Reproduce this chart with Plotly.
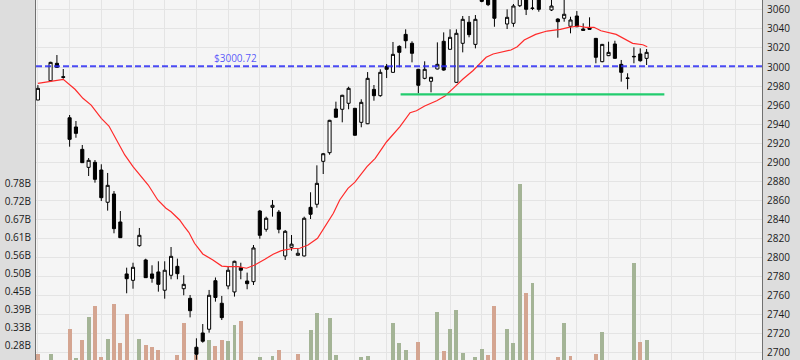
import plotly.graph_objects as go

# ---- data ----
day_index = [0, 2, 3, 4, 5, 6, 7, 8, 9, 10, 11, 12, 13, 14, 15, 16, 17, 18, 19, 20,
             21, 22, 23, 24, 25, 26, 27, 28, 29, 30, 31, 32, 33, 34, 35, 36, 37, 38, 39, 40,
             41, 42, 43, 44, 45, 46, 47, 48, 49, 50, 51, 52, 53, 54, 55, 56, 57, 58, 59, 60,
             61, 62, 63, 64, 65, 66, 67, 68, 69, 70, 71, 72, 74, 75, 76, 77, 78, 79, 81, 82,
             83, 84, 85, 86, 87, 88, 89, 90, 91, 92, 93, 94, 95, 96]

open_ = [2965.3, 2985.6, 3003.9, 2989.8, 2946.7, 2937.0, 2913.5, 2894.6, 2899.9, 2891.8,
         2857.9, 2866.6, 2837.2, 2782.6, 2775.9, 2812.3, 2797.3, 2782.6, 2784.7, 2765.5,
         2781.2, 2790.6, 2767.1, 2757.0, 2705.6, 2720.6, 2724.5, 2775.5, 2751.8, 2770.0,
         2763.7, 2789.2, 2775.2, 2774.5, 2848.7, 2829.5, 2852.6, 2847.6, 2801.5, 2810.6,
         2802.2, 2801.5, 2852.6, 2855.8, 2900.9, 2910.0, 2955.9, 2955.6, 2961.9, 2956.6,
         2941.9, 2940.4, 2976.5, 2969.9, 3000.7, 2994.4, 3021.7, 3034.3, 3024.9, 2997.6,
         2988.1, 2985.0, 2997.9, 3027.0, 3018.6, 2983.9, 3024.9, 3047.0, 3023.8, 3070.5,
         3074.0, 3072.0, 3045.2, 3045.9, 3064.4, 3074.0, 3062.0, 3073.0, 3059.9, 3050.4,
         3051.2, 3042.8, 3053.6, 3039.9, 3041.0, 3030.1, 3005.6, 3011.9, 3024.2, 3002.8,
         2988.5, 3011.2, 3013.7, 3009.1]

high = [2981.0, 3005.5, 3012.6, 2997.9, 2949.6, 2943.3, 2918.1, 2904.4, 2902.3, 2897.8,
        2888.7, 2869.7, 2848.7, 2789.2, 2794.4, 2830.9, 2798.6, 2791.7, 2795.9, 2795.9,
        2810.9, 2798.7, 2781.2, 2760.5, 2715.0, 2730.0, 2765.8, 2778.9, 2759.5, 2789.9,
        2796.5, 2794.4, 2784.0, 2813.0, 2849.8, 2842.8, 2860.3, 2849.8, 2828.8, 2823.5,
        2809.5, 2842.8, 2868.4, 2896.7, 2909.7, 2944.5, 2963.6, 2970.8, 2979.3, 2957.0,
        2966.1, 2994.7, 2981.1, 2997.6, 3003.2, 3026.3, 3022.8, 3039.6, 3027.0, 2998.0,
        3006.0, 2989.5, 3025.9, 3036.4, 3039.6, 3039.6, 3053.6, 3053.6, 3054.6, 3075.0,
        3079.0, 3077.0, 3060.6, 3066.2, 3078.0, 3077.0, 3072.0, 3076.0, 3071.0, 3051.2,
        3071.0, 3052.8, 3058.8, 3045.9, 3052.2, 3030.5, 3024.2, 3026.6, 3027.6, 3007.4,
        2993.4, 3020.7, 3019.6, 3018.9]

low = [2965.3, 2985.2, 2999.5, 2987.7, 2916.3, 2925.7, 2899.3, 2885.5, 2878.5, 2859.2,
       2849.1, 2825.3, 2820.5, 2762.3, 2767.1, 2811.2, 2778.5, 2773.4, 2764.0, 2756.6,
       2777.0, 2777.0, 2760.2, 2737.0, 2692.5, 2710.4, 2720.9, 2753.5, 2734.2, 2766.5,
       2758.8, 2777.0, 2766.5, 2771.0, 2819.6, 2827.0, 2842.8, 2825.3, 2797.3, 2807.0,
       2802.0, 2801.0, 2840.3, 2852.2, 2887.6, 2907.9, 2947.0, 2941.9, 2955.6, 2928.0,
       2936.7, 2940.0, 2964.6, 2968.8, 2988.4, 2994.0, 2999.7, 3019.6, 3004.9, 2972.4,
       2987.1, 2973.4, 2997.5, 2996.1, 3018.3, 2983.5, 3015.4, 3031.2, 3019.6, 3068.0,
       3064.0, 3042.3, 3039.9, 3042.3, 3063.0, 3054.6, 3059.8, 3058.1, 3058.8, 3030.8,
       3047.6, 3035.4, 3042.0, 3038.3, 3039.4, 3003.9, 3005.0, 3011.5, 3009.0, 2984.6,
       2976.6, 3003.9, 3005.6, 3002.1]

close = [2977.6, 3004.9, 2999.7, 2989.2, 2924.0, 2930.3, 2899.5, 2902.0, 2882.0, 2862.7,
         2875.7, 2830.2, 2820.7, 2777.6, 2789.6, 2823.2, 2778.7, 2778.0, 2771.7, 2786.5,
         2801.1, 2782.9, 2771.7, 2744.0, 2698.2, 2711.9, 2760.2, 2757.9, 2736.7, 2786.5,
         2795.9, 2786.5, 2772.4, 2809.9, 2823.2, 2841.1, 2854.7, 2829.5, 2827.4, 2813.9,
         2804.3, 2841.1, 2845.3, 2877.8, 2908.9, 2944.0, 2947.2, 2970.3, 2977.6, 2928.3,
         2962.9, 2988.1, 2969.9, 2994.4, 2997.6, 3013.3, 3015.4, 3027.6, 3014.4, 2980.8,
         2997.6, 2989.2, 3002.8, 2996.8, 3031.2, 3035.4, 3050.1, 3034.0, 3050.1, 3069.0,
         3065.5, 3051.2, 3052.2, 3064.1, 3075.0, 3060.6, 3061.6, 3060.6, 3064.1, 3047.6,
         3055.4, 3049.4, 3042.3, 3038.5, 3039.6, 3010.2, 3023.8, 3015.4, 3009.1, 2994.4,
         2988.1, 3010.8, 3006.6, 3015.4]

volume_b = [0.251, 0.251, 0.220, 0.210, 0.328, 0.238, 0.294, 0.366, 0.399, 0.243,
            0.297, 0.405, 0.286, 0.374, 0.220, 0.297, 0.279, 0.274, 0.263, 0.220,
            0.210, 0.249, 0.348, 0.230, 0.248, 0.220, 0.294, 0.276, 0.294, 0.291,
            0.340, 0.353, 0.220, 0.230, 0.243, 0.220, 0.245, 0.263, 0.220, 0.210,
            0.252, 0.230, 0.325, 0.377, 0.230, 0.362, 0.248, 0.220, 0.220, 0.230,
            0.242, 0.245, 0.220, 0.230, 0.220, 0.347, 0.285, 0.263, 0.220, 0.288,
            0.220, 0.210, 0.381, 0.260, 0.328, 0.387, 0.254, 0.220, 0.242, 0.266,
            0.248, 0.399, 0.328, 0.285, 0.775, 0.439, 0.470, 0.220, 0.220, 0.242,
            0.347, 0.245, 0.220, 0.210, 0.220, 0.251, 0.320, 0.220, 0.230, 0.220,
            0.230, 0.532, 0.288, 0.294]
prior_close = 2985.0

ma_index = [0, 4, 5.85, 7.1, 8.4, 10, 11.2, 12.6, 13.7, 15, 16.3, 17.4, 18.9, 20.2, 21,
            22.35, 23.1, 23.8, 24.7, 26, 27.6, 29, 30, 31.6, 32.9, 34.2, 35.8, 37.1, 38.4,
            40, 41.3, 42.6, 44.1, 45.3, 46.6, 47.6, 48.4, 48.9, 50, 51.9, 53.2, 55, 57.1,
            58.7, 59.7, 61, 62.9, 64.2, 65.5, 67, 68.6, 70.7, 71.8, 72.8, 74.6, 75.6, 76.7,
            78.5, 80.3, 82.4, 83.7, 85.3, 86.4, 87.7, 88.8, 91.2, 92.5, 93.8, 95.4, 96.1]
ma_value = [2982.9, 2987.1, 2976.6, 2967.1, 2960.0, 2946.1, 2938.0, 2921.5, 2907.6, 2895.3,
            2884.8, 2876.0, 2860.3, 2851.6, 2848.0, 2839.3, 2832.3, 2826.4, 2814.8, 2803.6,
            2797.3, 2790.9, 2790.2, 2790.2, 2788.6, 2792.0, 2798.0, 2803.3, 2807.1, 2809.1,
            2809.6, 2813.0, 2820.0, 2832.3, 2846.3, 2860.3, 2867.3, 2872.6, 2879.0, 2895.3,
            2904.1, 2921.5, 2937.3, 2952.0, 2954.1, 2959.0, 2964.6, 2969.5, 2977.6, 2987.1,
            2996.1, 3010.2, 3013.7, 3015.4, 3017.9, 3021.3, 3028.4, 3034.3, 3037.8, 3039.6,
            3041.7, 3043.1, 3041.7, 3041.7, 3038.1, 3034.3, 3029.4, 3024.9, 3023.4, 3021.3]

price_level = 3000.72
price_label = "$3000.72"
support_level = 2971.3
support_start = 57.2
support_end = 98.8

vol_tick_values_b = [5/18, 6/18, 7/18, 8/18, 9/18, 10/18, 11/18, 12/18, 13/18, 14/18]
vol_tick_text = ["0.28B", "0.33B", "0.39B", "0.45B", "0.50B", "0.56B", "0.61B", "0.67B", "0.72B", "0.78B"]

# ---- derived ----
volume = [v * 1e9 for v in volume_b]
prev = [prior_close] + close[:-1]
UP_COL = "#a4b496"
DOWN_COL = "#d4a591"
bar_colors = [UP_COL if c > p else DOWN_COL for c, p in zip(close, prev)]

fig = go.Figure()

fig.add_trace(go.Bar(
    x=day_index, y=volume, yaxis="y", marker=dict(color=bar_colors, line=dict(width=0)),
    width=0.62, showlegend=False, hoverinfo="skip"))

fig.add_trace(go.Scatter(
    x=ma_index, y=ma_value, yaxis="y2", mode="lines",
    line=dict(color="#ff2a2a", width=1.2), showlegend=False, hoverinfo="skip"))

fig.add_trace(go.Candlestick(
    x=day_index, open=open_, high=high, low=low, close=close, yaxis="y2",
    increasing=dict(line=dict(color="#000000", width=1), fillcolor="#ffffff"),
    decreasing=dict(line=dict(color="#000000", width=1), fillcolor="#000000"),
    whiskerwidth=0, showlegend=False, hoverinfo="skip"))

fig.add_shape(type="line", xref="paper", x0=0, x1=1, yref="y2", y0=price_level, y1=price_level,
              line=dict(color="rgba(45,45,245,0.85)", width=2, dash="6px,3px"), layer="above")
fig.add_shape(type="line", xref="x", x0=support_start, x1=support_end, yref="y2",
              y0=support_level, y1=support_level,
              line=dict(color="#22cc6e", width=2.4), layer="above")
fig.add_annotation(xref="paper", x=0.2424, yref="y2", y=price_level, text=price_label,
                   showarrow=False, xanchor="left", yanchor="bottom", yshift=-1,
                   font=dict(family="Open Sans", size=10, color="rgba(70,70,250,0.9)"))

fig.update_layout(
    width=800, height=360,
    margin=dict(l=36, r=38, t=0, b=0),
    paper_bgcolor="#dddddd", plot_bgcolor="#f5f5f5",
    font=dict(family="Open Sans", size=10, color="#1a1a1a"),
    bargap=0, showlegend=False,
    xaxis=dict(range=[-0.3, 114.2], showgrid=True, gridcolor="#e4e4e4", gridwidth=1,
               tick0=0, dtick=5, showticklabels=False, zeroline=False,
               rangeslider=dict(visible=False), ticks=""),
    yaxis=dict(side="left", range=[0.2324e9, 1.3436e9], showgrid=False, zeroline=False,
               tickvals=[v * 1e9 for v in vol_tick_values_b], ticktext=vol_tick_text,
               showline=True, linecolor="#707070", linewidth=1, ticks="",
               ticklabelstandoff=2),
    yaxis2=dict(side="right", overlaying="y", range=[2692.2, 3070.4], dtick=20, tick0=2700,
                showgrid=True, gridcolor="#e4e4e4", gridwidth=1, zeroline=False,
                showline=True, linecolor="#707070", linewidth=1, ticks="",
                ticklabelstandoff=2),
)

fig.write_html("out.html")
